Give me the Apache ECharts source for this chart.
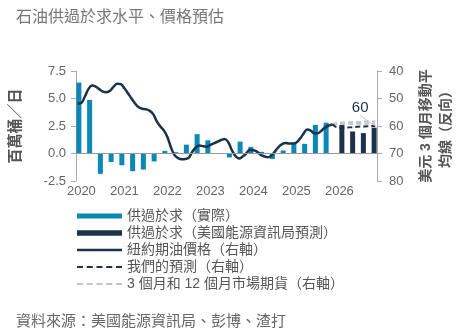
<!DOCTYPE html>
<html><head><meta charset="utf-8">
<script src="https://cdn.jsdelivr.net/npm/echarts@6/dist/echarts.min.js"></script>
<style>html,body{margin:0;padding:0;background:#fff}#c{width:464px;height:330px}</style>
</head><body><div id="c"></div>
<script>
// ---------- data ----------
const years = ['2020', '2021', '2022', '2023', '2024', '2025', '2026'];
const quarterNames = ['Q1', 'Q2', 'Q3', 'Q4'];
const leftTicks = [-2.5, 0, 2.5, 5, 7.5];
const rightTicks = [40, 50, 60, 70, 80];

// quarterly oil market surplus, million barrels/day
const surplusActual = [6.45, 4.87, -1.85, -0.77, -1.07, -1.61, -1.46, -0.72,
  0.24, 0.12, 0.8, 1.76, 1.2, 0, -0.36, 1.08, 0.6, 0.15, -0.5, 0.27,
  1.0, 0.88, 2.6, 2.8, null, null, null, null];
const surplusEIA = [null, null, null, null, null, null, null, null, null, null,
  null, null, null, null, null, null, null, null, null, null, null, null, null, null,
  2.6, 2.0, 1.85, 2.35];

// WTI price, USD 3-month moving average (monthly, 2020-01 .. 2025-12)
const wtiPrice = [51.8, 51.6, 49.2, 46.5, 45.3, 45.7, 46.6, 47.5, 47.7, 47.2, 45.7, 44.6,
  44.8, 46.3, 48.1, 50.0, 51.8, 53.2, 53.7, 53.9, 54.4, 55.6, 58.2, 60.1,
  61.6, 64.0, 67.8, 70.6, 71.7, 72.1, 72.0, 71.5, 69.3, 67.7, 67.1, 67.4,
  67.5, 66.9, 66.3, 65.7, 65.1, 64.7, 65.9, 68.8, 70.9, 71.8, 71.1, 70.0,
  68.6, 68.8, 69.3, 70.4, 71.0, 71.4, 70.7, 69.3, 67.7, 66.6, 66.2, 66.4,
  66.4, 66.0, 64.6, 62.8, 61.3, 61.7, 62.6, 62.6, 61.7, 60.6, 59.9, 59.4];
// forecasts, monthly from 2025-12 .. 2026-12
const forecastStartIndex = 71;
const ourForecast = [59.4, 60.3, 60.6, 60.7, 60.6, 60.5, 60.4, 60.3, 60.2, 60.2, 60.1, 60.0, 60.0];
const futures3m = [59.4, 59.0, 58.8, 58.7, 58.6, 58.6, 58.5, 58.5, 58.5, 58.4, 58.4, 58.4, 58.4];
const futures12m = [59.4, 59.3, 59.2, 59.2, 59.2, 59.2, 59.2, 59.2, 59.2, 59.2, 59.2, 59.2, 59.2];

// ---------- build ----------
const quarters = [];
years.forEach(y => quarterNames.forEach(q => quarters.push(y + q)));
const months = [];
years.forEach(y => { for (let m = 1; m <= 12; m++) months.push(y + '-' + String(m).padStart(2, '0')); });
function padMonthly(arr, start) {
  const out = new Array(months.length).fill(null);
  arr.forEach((v, i) => { out[start + i] = v; });
  return out;
}
const priceSeries = padMonthly(wtiPrice, 0);
const oursSeries = padMonthly(ourForecast, forecastStartIndex);
const lastIdx = forecastStartIndex + ourForecast.length - 1;
oursSeries[lastIdx] = { value: oursSeries[lastIdx], label: { show: true, formatter: String(Math.round(ourForecast[ourForecast.length - 1])) } };
const fut3Series = padMonthly(futures3m, forecastStartIndex);
const fut12Series = padMonthly(futures12m, forecastStartIndex);

const FONT = "'Liberation Sans', 'Noto Sans CJK TC', sans-serif";
const NAVY = '#1b3249';
const BLUE = '#0b87b8';
const GREY_AX = '#aaaaaa';
const FUT_GREY = '#c4c4c4';
const FUT_NAME = '3 個月和 12 個月市場期貨（右軸）';
const DASH_ICON = 'path://M0,0H6V2H0Z M9.75,0H15.75V2H9.75Z M19.5,0H25.5V2H19.5Z M29.25,0H35.25V2H29.25Z M39,0H45V2H39Z';

const chart = echarts.init(document.getElementById('c'), null, { renderer: 'canvas' });
chart.setOption({
  animation: false,
  textStyle: { fontFamily: FONT },
  title: [
    { text: '石油供過於求水平、價格預估', left: 11, top: 5,
      textStyle: { fontSize: 16, color: '#777', fontWeight: 'normal', fontFamily: FONT } },
    { text: '資料來源：美國能源資訊局、彭博、渣打', left: 11, top: 309,
      textStyle: { fontSize: 15, color: '#666', fontWeight: 'normal', fontFamily: FONT } }
  ],
  grid: { left: 71, right: 83, top: 71, bottom: 149, containLabel: false },
  legend: {
    orient: 'vertical', left: 77, top: 209, padding: 0,
    itemWidth: 45, itemHeight: 14, itemGap: 3,
    textStyle: { fontSize: 14, color: '#555', fontFamily: FONT },
    data: [
      { name: '供過於求（實際）', icon: 'path://M0,0H45V5H0Z' },
      { name: '供過於求（美國能源資訊局預測）', icon: 'path://M0,0H45V5.5H0Z' },
      { name: '紐約期油價格（右軸）', icon: 'path://M0,0H45V2.5H0Z', itemStyle: { color: NAVY } },
      { name: '我們的預測（右軸）', icon: DASH_ICON, itemStyle: { color: NAVY, opacity: 1 } },
      { name: FUT_NAME, icon: DASH_ICON, itemStyle: { color: FUT_GREY } }
    ]
  },
  xAxis: [
    { type: 'category', data: quarters, boundaryGap: true,
      axisLine: { show: false, onZero: false }, axisTick: { show: false },
      axisLabel: { interval: 3, margin: 4, fontSize: 13, color: '#666', fontFamily: FONT,
        formatter: v => v.slice(0, 4) } },
    { type: 'category', data: months, boundaryGap: true, show: false }
  ],
  yAxis: [
    { type: 'value', min: -2.5, max: 7.5, interval: 2.5, position: 'left',
      name: '百萬桶／日', nameLocation: 'middle', nameGap: 53, nameRotate: 90,
      nameTextStyle: { fontSize: 15, color: '#555', fontWeight: 'bold', fontFamily: FONT },
      axisLine: { show: true, lineStyle: { color: GREY_AX } },
      axisTick: { show: true, length: 5, lineStyle: { color: GREY_AX } },
      splitLine: { show: false },
      axisLabel: { margin: 10, fontSize: 13, color: '#666', fontFamily: FONT,
        formatter: v => leftTicks.includes(v) ? v.toFixed(1) : '' } },
    { type: 'value', min: 40, max: 80, interval: 10, inverse: true, position: 'right',
      name: '美元 3 個月移動平\n均線（反向）', nameLocation: 'middle', nameGap: 39, nameRotate: 90,
      nameTextStyle: { fontSize: 14, color: '#555', fontWeight: 'bold', lineHeight: 20, align: 'center', fontFamily: FONT },
      axisLine: { show: true, lineStyle: { color: GREY_AX } },
      axisTick: { show: true, length: 5, lineStyle: { color: GREY_AX } },
      splitLine: { show: false },
      axisLabel: { margin: 12, fontSize: 13, color: '#666', fontFamily: FONT,
        formatter: v => rightTicks.includes(v) ? String(v) : '' } }
  ],
  series: [
    { name: '供過於求（實際）', type: 'bar', xAxisIndex: 0, yAxisIndex: 0,
      data: surplusActual, barWidth: 5, barGap: '0%', itemStyle: { color: BLUE },
      markLine: { silent: true, symbol: 'none', label: { show: false },
        lineStyle: { color: '#999', width: 1, type: 'solid' }, data: [{ yAxis: 0 }] } },
    { name: '供過於求（美國能源資訊局預測）', type: 'bar', xAxisIndex: 0, yAxisIndex: 0,
      data: surplusEIA, barWidth: 5, barGap: '0%', itemStyle: { color: NAVY } },
    { name: FUT_NAME, type: 'line', xAxisIndex: 1, yAxisIndex: 1, data: fut3Series,
      symbol: 'none', lineStyle: { color: FUT_GREY, width: 2, type: [5, 3] }, itemStyle: { color: FUT_GREY } },
    { name: FUT_NAME, type: 'line', xAxisIndex: 1, yAxisIndex: 1, data: fut12Series,
      symbol: 'none', lineStyle: { color: FUT_GREY, width: 2, type: [5, 3] }, itemStyle: { color: FUT_GREY } },
    { name: '紐約期油價格（右軸）', type: 'line', xAxisIndex: 1, yAxisIndex: 1, data: priceSeries,
      symbol: 'none', smooth: 0.4, lineStyle: { color: NAVY, width: 2.5 }, itemStyle: { color: NAVY } },
    { name: '我們的預測（右軸）', type: 'line', xAxisIndex: 1, yAxisIndex: 1, data: oursSeries,
      symbol: 'circle', symbolSize: 1, showSymbol: true,
      lineStyle: { color: NAVY, width: 2, type: [5, 3] },
      itemStyle: { color: 'rgba(0,0,0,0)', borderWidth: 0 },
      label: { show: false, position: 'top', fontSize: 15, color: NAVY, fontFamily: FONT },
      labelLayout: { dx: -15, dy: -5 },
      labelLine: { show: true, lineStyle: { color: '#c8c8c8', width: 1 } } }
  ]
});
</script></body></html>
